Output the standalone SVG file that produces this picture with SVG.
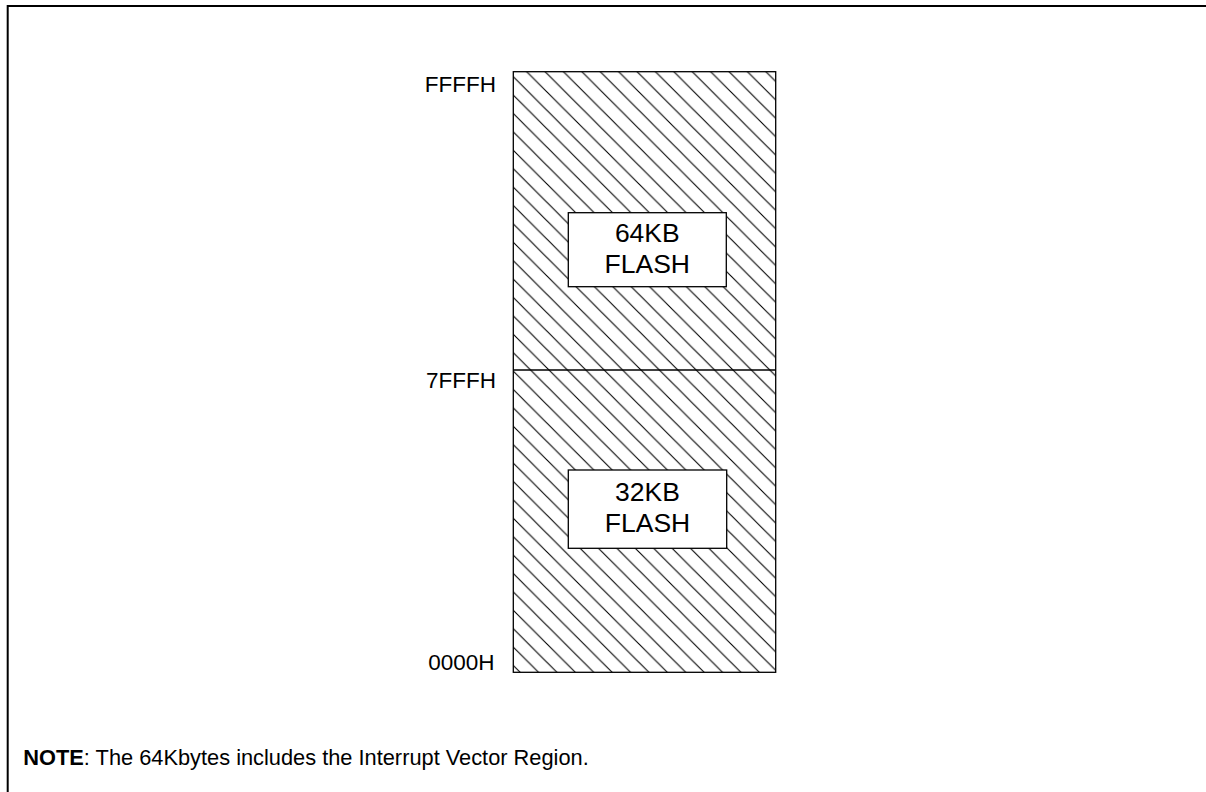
<svg xmlns="http://www.w3.org/2000/svg" width="1206" height="792" viewBox="0 0 1206 792">
  <style>
    .lbl { font-family: "Liberation Sans", Arial, sans-serif; font-size: 22.5px; fill: #000; }
    .box { font-family: "Liberation Sans", Arial, sans-serif; font-size: 26.5px; fill: #000; text-anchor: middle; }
    .note { font-family: "Liberation Sans", Arial, sans-serif; font-size: 21.8px; fill: #000; }
    .edge { fill: none; stroke: #000; stroke-width: 1.3; }
    .tag { fill: #fff; stroke: #000; stroke-width: 1.3; }
  </style>
  <defs>
    <!-- diagonal hatching, lines running top-left to bottom-right -->
    <pattern id="hatch" patternUnits="userSpaceOnUse" x="13.4" y="0" width="18.4" height="18.4">
      <path d="M-2,-2 L20.4,20.4 M-2,16.4 L2,20.4 M16.4,-2 L20.4,2" stroke="#000" stroke-width="1.1" fill="none"/>
    </pattern>
  </defs>
  <rect width="1206" height="792" fill="#fff"/>

  <!-- page frame -->
  <path d="M7.7,792 V6 H1206" fill="none" stroke="#000" stroke-width="2"/>

  <!-- memory map -->
  <g id="memory-map">
    <rect x="513.3" y="71.7" width="262.4" height="600.6" fill="url(#hatch)"/>
    <rect class="edge" x="513.3" y="71.7" width="262.4" height="600.6"/>
    <line class="edge" x1="513.3" y1="370" x2="775.7" y2="370"/>
  </g>

  <g id="flash-64kb">
    <rect class="tag" x="568.3" y="212.7" width="158" height="74"/>
    <text class="box" x="647.3" y="241.7">64KB</text>
    <text class="box" x="647.3" y="273.3">FLASH</text>
  </g>

  <g id="flash-32kb">
    <rect class="tag" x="568.3" y="470" width="158.4" height="78.3"/>
    <text class="box" x="647.5" y="501">32KB</text>
    <text class="box" x="647.5" y="532.3">FLASH</text>
  </g>

  <!-- address labels -->
  <g id="addresses" text-anchor="end">
    <text class="lbl" x="496" y="91.7">FFFFH</text>
    <text class="lbl" x="496" y="388.3">7FFFH</text>
    <text class="lbl" x="494.5" y="670">0000H</text>
  </g>

  <text class="note" x="23.3" y="765"><tspan font-weight="bold">NOTE</tspan>: The 64Kbytes includes the Interrupt Vector Region.</text>
</svg>
